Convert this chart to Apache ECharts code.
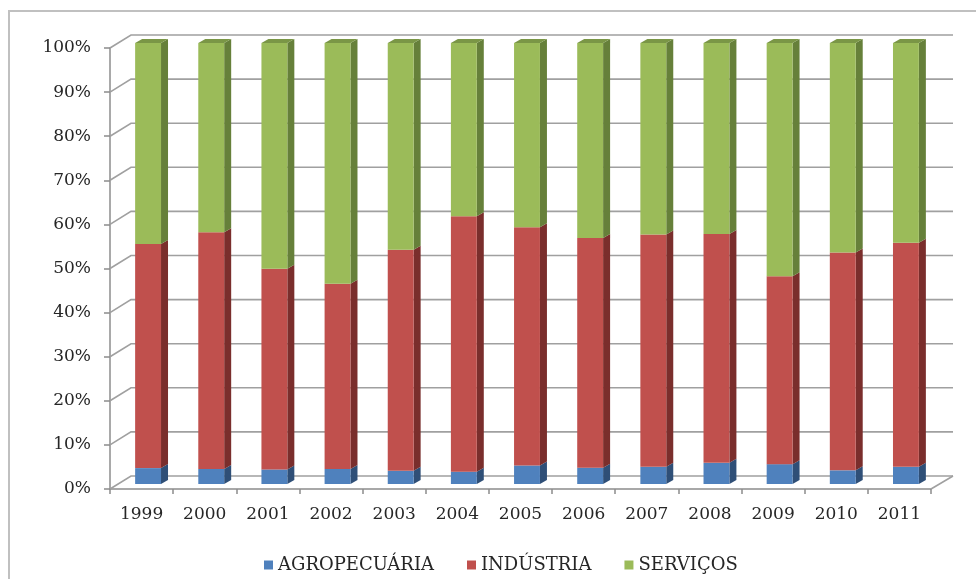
<!DOCTYPE html>
<html>
<head>
<meta charset="utf-8">
<script src="https://cdn.jsdelivr.net/npm/echarts@6/dist/echarts.min.js"></script>
<style>html,body{margin:0;padding:0;background:#fff}#c{width:976px;height:579px}</style>
</head>
<body>
<div id="c"></div>
<script>
const years = ['1999','2000','2001','2002','2003','2004','2005','2006','2007','2008','2009','2010','2011'];
const agro = [3.6, 3.4, 3.3, 3.4, 3.0, 2.8, 4.2, 3.7, 3.9, 4.8, 4.5, 3.1, 3.9];
const industria = [50.8, 53.7, 45.5, 42.0, 50.1, 57.9, 54.0, 52.1, 52.7, 51.9, 42.6, 49.4, 50.8];
const servicos = [45.6, 42.9, 51.2, 54.6, 46.9, 39.3, 41.8, 44.2, 43.4, 43.3, 52.9, 47.5, 45.3];
const yTicks = [0, 10, 20, 30, 40, 50, 60, 70, 80, 90, 100];
const seriesNames = ['AGROPECUÁRIA', 'INDÚSTRIA', 'SERVIÇOS'];

const FONT = 'DejaVu Serif';
const faceColors = ['#4F81BD', '#C0504D', '#9BBB59'];
const sideColors = ['#2F4F77', '#7A2E2C', '#66803A'];
const topColors = ['#3E6699', '#9A3F3C', '#7A9646'];

// bars sit in the middle of the depth
const OX = 6.5, OY = -5;     // bar front offset from the front axis
const BDX = 7, BDY = -4;     // bar depth
const WDX = 21, WDY = -13;   // wall depth (front axis -> back wall)

const allVals = [agro, industria, servicos];
function stackData(k) {
  return years.map((y, i) => {
    let base = 0;
    for (let j = 0; j < k; j++) base += allVals[j][i];
    return [i, base, base + allVals[k][i]];
  });
}

function barRender(k, last) {
  return function (params, api) {
    const idx = api.value(0);
    const cx = api.coord([idx, 0])[0] + OX;
    const yb = api.coord([idx, api.value(1)])[1] + OY;
    const yt = api.coord([idx, api.value(2)])[1] + OY;
    const w = api.size([1, 0])[0] * 0.41;
    const l = cx - w / 2, r = cx + w / 2;
    const children = [
      { type: 'polygon', shape: { points: [[r, yt], [r + BDX, yt + BDY], [r + BDX, yb + BDY], [r, yb]] },
        style: { fill: sideColors[k] } },
      { type: 'rect', shape: { x: l, y: yt, width: w, height: yb - yt },
        style: { fill: faceColors[k] } }
    ];
    if (last) {
      children.push({ type: 'polygon', shape: { points: [[l, yt], [l + BDX, yt + BDY], [r + BDX, yt + BDY], [r, yt]] },
        style: { fill: topColors[k] } });
    }
    return { type: 'group', children: children };
  };
}

function gridRender(params, api) {
  const cs = params.coordSys;
  const v = api.value(0);
  const y = api.coord([0, v])[1];
  const x0 = cs.x, x1 = cs.x + cs.width;
  const children = [
    { type: 'polyline', shape: { points: [[x0, y], [x0 + WDX, y + WDY], [x1 + WDX + 1, y + WDY]] },
      style: { stroke: '#A0A0A0', lineWidth: 1.6, fill: null } }
  ];
  if (v === 0) {
    children.push({ type: 'line', shape: { x1: x1, y1: y, x2: x1 + WDX + 1, y2: y + WDY },
      style: { stroke: '#A0A0A0', lineWidth: 1.6 } });
  }
  return { type: 'group', children: children };
}

const chart = echarts.init(document.getElementById('c'), null, { renderer: 'canvas' });
chart.setOption({
  animation: false,
  backgroundColor: '#fff',
  graphic: [{
    type: 'rect', shape: { x: 9, y: 11, width: 1100, height: 1100 },
    style: { fill: null, stroke: '#C0C0C0', lineWidth: 2 }, z: 0
  }],
  grid: { left: 110, top: 48, width: 821, height: 441 },
  legend: {
    data: seriesNames, left: 259, top: 551, icon: 'rect', itemWidth: 9, itemHeight: 9, itemGap: 33,
    textStyle: { fontFamily: FONT, fontSize: 18, color: '#262626' }
  },
  xAxis: {
    type: 'category', data: years,
    axisLine: { show: true, lineStyle: { color: '#8C8C8C', width: 1.5 } },
    axisTick: { show: true, length: 5, lineStyle: { color: '#8C8C8C', width: 1.5 } },
    axisLabel: { margin: 17, fontFamily: FONT, fontSize: 17, color: '#262626' },
    splitLine: { show: false }
  },
  yAxis: {
    type: 'value', min: 0, max: 100, interval: 10,
    axisLine: { show: true, lineStyle: { color: '#8C8C8C', width: 1.5 } },
    axisTick: { show: true, length: 6, lineStyle: { color: '#8C8C8C', width: 1.5 } },
    axisLabel: { margin: 19, formatter: '{value}%', fontFamily: FONT, fontSize: 17, color: '#262626' },
    splitLine: { show: false }
  },
  series: [
    { type: 'custom', name: '_grid', data: yTicks.map(v => [v]), renderItem: gridRender, z: 1, silent: true,
      encode: { y: 0 } },
    { type: 'custom', name: seriesNames[0], data: stackData(0), renderItem: barRender(0, false), z: 2,
      itemStyle: { color: faceColors[0] }, encode: { x: 0, y: [1, 2] } },
    { type: 'custom', name: seriesNames[1], data: stackData(1), renderItem: barRender(1, false), z: 2,
      itemStyle: { color: faceColors[1] }, encode: { x: 0, y: [1, 2] } },
    { type: 'custom', name: seriesNames[2], data: stackData(2), renderItem: barRender(2, true), z: 2,
      itemStyle: { color: faceColors[2] }, encode: { x: 0, y: [1, 2] } }
  ]
});
</script>
</body>
</html>
